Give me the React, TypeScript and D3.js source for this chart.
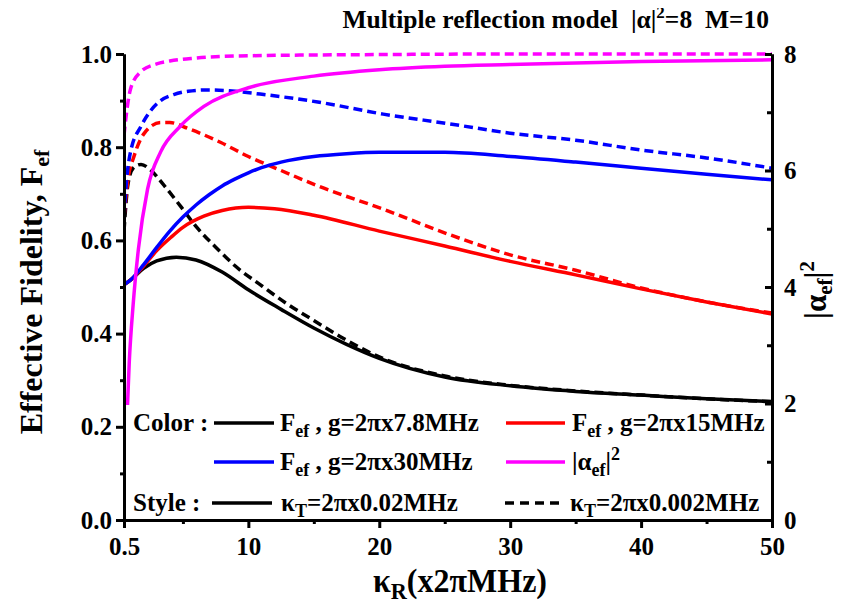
import React, { useEffect, useRef } from "react";
import * as d3 from "d3";

// kappa_R grid (x 2pi MHz) and read-off values, per series
const kR_g78 = [0.5, 1, 2, 3, 4.5, 6, 8, 10, 12.5, 15, 17.5, 20, 25, 30, 35, 40, 45, 50];
const F_g78 = [0.505, 0.515, 0.54, 0.556, 0.564, 0.558, 0.532, 0.494, 0.452, 0.412, 0.377, 0.347, 0.307, 0.288, 0.276, 0.268, 0.26, 0.254];
const kR_g78_low = [0.5, 0.8, 1.2, 1.8, 2.5, 3.5, 4.8, 6, 7.7, 9, 10.9, 13, 15, 17, 20, 25, 30, 35, 40, 45, 50];
const F_g78_low = [0.62, 0.72, 0.755, 0.763, 0.752, 0.72, 0.674, 0.63, 0.58, 0.545, 0.505, 0.463, 0.428, 0.394, 0.35, 0.309, 0.289, 0.277, 0.268, 0.26, 0.254];

const kR_g15 = [0.5, 1, 2, 3, 4.1, 5, 6.6, 8, 10, 12, 15, 20, 25, 30, 35, 40, 45, 50];
const F_g15 = [0.505, 0.515, 0.545, 0.578, 0.607, 0.628, 0.652, 0.664, 0.671, 0.668, 0.654, 0.62, 0.588, 0.555, 0.526, 0.496, 0.468, 0.442];
const kR_g15_low = [0.5, 0.8, 1.26, 2, 3.3, 4, 5.4, 7.9, 10, 12.5, 15.3, 20.3, 25.4, 30, 35, 40, 45, 50];
const F_g15_low = [0.65, 0.73, 0.78, 0.828, 0.853, 0.853, 0.84, 0.81, 0.78, 0.75, 0.717, 0.667, 0.612, 0.569, 0.536, 0.498, 0.468, 0.444];

const kR_g30 = [0.5, 1, 2, 3, 4, 5, 6, 7, 8, 9, 10, 11, 12.5, 15, 17.5, 20, 25, 30, 35, 40, 45, 50];
const F_g30 = [0.505, 0.515, 0.548, 0.585, 0.62, 0.65, 0.676, 0.698, 0.717, 0.732, 0.745, 0.756, 0.768, 0.78, 0.786, 0.789, 0.789, 0.78, 0.768, 0.755, 0.742, 0.73];
const kR_g30_low = [0.5, 0.7, 1, 1.8, 2.5, 3.3, 4.3, 5.4, 7, 9, 10.9, 15.3, 20.3, 25.4, 30, 35, 40, 45, 50];
const F_g30_low = [0.65, 0.73, 0.79, 0.845, 0.877, 0.9, 0.913, 0.92, 0.923, 0.92, 0.914, 0.897, 0.871, 0.85, 0.83, 0.815, 0.794, 0.777, 0.755];

const kR_alpha = [0.5, 0.7, 0.9, 1.2, 1.6, 2.3, 3.3, 4.8, 6.6, 10, 15, 20, 25, 30, 40, 50];
const alpha_ef = [0.3, 1.6, 2.7, 3.7, 4.65, 5.68, 6.32, 6.76, 7.1, 7.42, 7.62, 7.73, 7.79, 7.82, 7.87, 7.9];
const kR_alpha_low = [0.5, 0.7, 1, 1.8, 3, 4, 6, 10, 20, 30, 50];
const alpha_ef_low = [6.6, 7.0, 7.4, 7.7, 7.83, 7.88, 7.93, 7.97, 7.99, 8.0, 8.0];

const xTicks = [0.5, 10, 20, 30, 40, 50];
const xMinor = [5, 15, 25, 35, 45];
const leftTicks = [0, 0.2, 0.4, 0.6, 0.8, 1.0];
const leftMinor = [0.1, 0.3, 0.5, 0.7, 0.9];
const rightTicks = [0, 2, 4, 6, 8];
const rightMinor = [1, 3, 5, 7];

const FONT = "'Liberation Serif', 'Times New Roman', serif";

const App = () => {
    const container = useRef<HTMLDivElement>(null);

    useEffect(() => {
        const el = container.current;
        if (!el) return;
        el.innerHTML = "";

        const width = 842, height = 608;
        const left = 124, right = 772, top = 54, bottom = 520;

        const svg = d3.select(el)
            .append("svg")
            .attr("width", width)
            .attr("height", height)
            .style("display", "block")
            .style("font-family", FONT)
            .style("font-weight", "bold");

        const x = d3.scaleLinear().domain([0.5, 50]).range([left, right]);
        const yL = d3.scaleLinear().domain([0, 1]).range([bottom, top]);
        const yR = d3.scaleLinear().domain([0, 8]).range([bottom, top]);

        const series = [
            { xs: kR_g78, ys: F_g78, y: yL, color: "#000000", dash: null },
            { xs: kR_g78_low, ys: F_g78_low, y: yL, color: "#000000", dash: "9,5" },
            { xs: kR_g15, ys: F_g15, y: yL, color: "#ff0000", dash: null },
            { xs: kR_g15_low, ys: F_g15_low, y: yL, color: "#ff0000", dash: "9,5" },
            { xs: kR_g30, ys: F_g30, y: yL, color: "#0000ff", dash: null },
            { xs: kR_g30_low, ys: F_g30_low, y: yL, color: "#0000ff", dash: "9,5" },
            { xs: kR_alpha, ys: alpha_ef, y: yR, color: "#ff00ff", dash: null },
            { xs: kR_alpha_low, ys: alpha_ef_low, y: yR, color: "#ff00ff", dash: "9,5" },
        ];

        svg.append("clipPath").attr("id", "plot-clip")
            .append("rect")
            .attr("x", left).attr("y", top - 10)
            .attr("width", right - left).attr("height", bottom - top + 10);

        const curves = svg.append("g").attr("clip-path", "url(#plot-clip)");
        series.forEach(s => {
            const pts = s.xs.map((v, i) => [v, s.ys[i]] as [number, number]);
            const line = d3.line<[number, number]>()
                .x(d => x(d[0]))
                .y(d => s.y(d[1]))
                .curve(d3.curveMonotoneX);
            curves.append("path")
                .datum(pts)
                .attr("d", line)
                .attr("fill", "none")
                .attr("stroke", s.color)
                .attr("stroke-width", 3.5)
                .attr("stroke-dasharray", s.dash);
        });

        // legend background covers curves in the lower band
        svg.append("rect")
            .attr("x", left - 4).attr("y", 405)
            .attr("width", right - left + 2).attr("height", bottom - 405 - 1)
            .attr("fill", "#ffffff");

        // axes
        const styleAxis = (g: any) => {
            g.select(".domain").attr("stroke-width", 3);
            g.selectAll(".tick line").attr("stroke-width", 3);
            g.selectAll("text").style("font-family", FONT).style("font-weight", "bold").attr("font-size", 25).attr("fill", "#000");
        };

        svg.append("g").attr("transform", `translate(${left},0)`)
            .call(d3.axisLeft(yL).tickValues(leftMinor).tickSize(4).tickSizeOuter(0).tickFormat(() => ""))
            .call(styleAxis);
        svg.append("g").attr("transform", `translate(${left},0)`)
            .call(d3.axisLeft(yL).tickValues(leftTicks).tickSize(8).tickSizeOuter(0).tickPadding(4).tickFormat(d3.format(".1f")))
            .call(styleAxis);

        svg.append("g").attr("transform", `translate(${right},0)`)
            .call(d3.axisRight(yR).tickValues(rightMinor).tickSize(-5).tickSizeOuter(0).tickFormat(() => ""))
            .call(styleAxis);
        svg.append("g").attr("transform", `translate(${right},0)`)
            .call(d3.axisRight(yR).tickValues(rightTicks).tickSize(-7).tickSizeOuter(0).tickPadding(12).tickFormat(d3.format("d")))
            .call(styleAxis);

        svg.append("g").attr("transform", `translate(0,${bottom})`)
            .call(d3.axisBottom(x).tickValues(xMinor).tickSize(4).tickSizeOuter(0).tickFormat(() => ""))
            .call(styleAxis);
        svg.append("g").attr("transform", `translate(0,${bottom})`)
            .call(d3.axisBottom(x).tickValues(xTicks).tickSize(8).tickSizeOuter(0).tickPadding(9)
                .tickFormat((d: any) => (d === 0.5 ? "0.5" : String(d))))
            .call(styleAxis);

        // title
        const title = svg.append("text")
            .attr("x", 769).attr("y", 28)
            .attr("text-anchor", "end")
            .attr("font-size", 25.5)
            .style("white-space", "pre");
        title.append("tspan").text("Multiple reflection model  |\u03b1|");
        title.append("tspan").attr("dy", -10).attr("font-size", 17).text("2");
        title.append("tspan").attr("dy", 10).text("=8  M=10");

        // left axis title
        const lt = svg.append("text")
            .attr("transform", `translate(42,292) rotate(-90)`)
            .attr("text-anchor", "middle")
            .attr("font-size", 32);
        lt.append("tspan").text("Effective Fidelity, F");
        lt.append("tspan").attr("dy", 7).attr("font-size", 22).text("ef");

        // right axis title
        const rt = svg.append("text")
            .attr("transform", `translate(826,290) rotate(-90)`)
            .attr("text-anchor", "middle")
            .attr("font-size", 31);
        rt.append("tspan").text("|\u03b1");
        rt.append("tspan").attr("dy", 6).attr("font-size", 21).text("ef");
        rt.append("tspan").attr("dy", -6).text("|");
        rt.append("tspan").attr("dy", -12).attr("font-size", 21).text("2");

        // x axis title
        const xt = svg.append("text")
            .attr("transform", `translate(460,592) scale(0.97,1)`)
            .attr("text-anchor", "middle")
            .attr("font-size", 33);
        xt.append("tspan").text("\u03ba");
        xt.append("tspan").attr("dy", 7).attr("font-size", 23).text("R");
        xt.append("tspan").attr("dy", -7).text("(x2\u03c0MHz)");

        // legend
        const legendFont = 25;
        const subFont = 18;
        const addLabel = (lx: number, ly: number, parts: [string, string][]) => {
            const t = svg.append("text").attr("x", lx).attr("y", ly).attr("font-size", legendFont).style("white-space", "pre");
            let shift = 0;
            parts.forEach(([kind, str]) => {
                const target = kind === "sub" ? 6 : kind === "sup" ? -10 : 0;
                const sp = t.append("tspan").attr("dy", target - shift).text(str);
                if (kind !== "n") sp.attr("font-size", subFont);
                shift = target;
            });
        };
        const addLine = (x1: number, x2: number, ly: number, color: string, dash: string | null) => {
            svg.append("line")
                .attr("x1", x1).attr("x2", x2).attr("y1", ly).attr("y2", ly)
                .attr("stroke", color).attr("stroke-width", 3.5)
                .attr("stroke-dasharray", dash);
        };

        const row1 = 423, row2 = 462, row3 = 503;
        svg.append("text").attr("x", 133).attr("y", row1 + 8).attr("font-size", legendFont).text("Color :");
        svg.append("text").attr("x", 133).attr("y", row3 + 8).attr("font-size", legendFont).text("Style :");

        addLine(214, 274, row1, "#000000", null);
        addLabel(280, row1 + 8, [["n", "F"], ["sub", "ef"], ["n", " , g=2\u03c0x7.8MHz"]]);
        addLine(506, 565, row1, "#ff0000", null);
        addLabel(572, row1 + 8, [["n", "F"], ["sub", "ef"], ["n", " , g=2\u03c0x15MHz"]]);

        addLine(214, 274, row2, "#0000ff", null);
        addLabel(280, row2 + 8, [["n", "F"], ["sub", "ef"], ["n", " , g=2\u03c0x30MHz"]]);
        addLine(506, 565, row2, "#ff00ff", null);
        addLabel(572, row2 + 8, [["n", "|\u03b1"], ["sub", "ef"], ["n", "|"], ["sup", "2"]]);

        addLine(212, 272, row3, "#000000", null);
        addLabel(281, row3 + 8, [["n", "\u03ba"], ["sub", "T"], ["n", "=2\u03c0x0.02MHz"]]);
        addLine(505, 560, row3, "#000000", "9,6");
        addLabel(570, row3 + 8, [["n", "\u03ba"], ["sub", "T"], ["n", "=2\u03c0x0.002MHz"]]);
    }, []);

    return <div ref={container} style={{ margin: -8 }}></div>;
};

export default App;
